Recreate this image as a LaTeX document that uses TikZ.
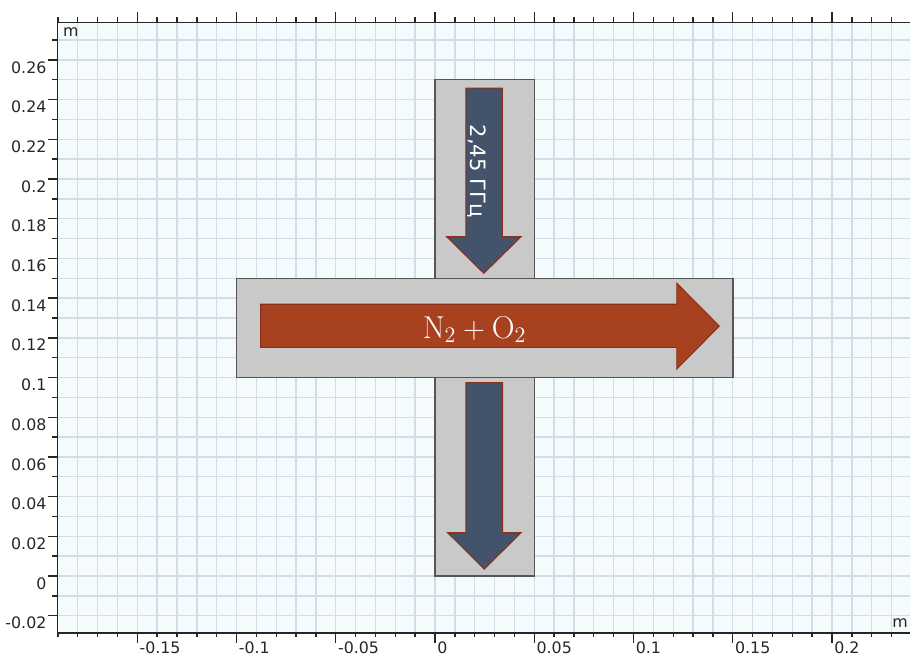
\documentclass[tikz,border=0pt]{standalone}
\usepackage{fontspec}
\newfontfamily\axisfont{DejaVu Sans}
\usepackage{xcolor}
\usepackage{tikz}
\usetikzlibrary{calc}

\definecolor{plotbg}{HTML}{F5FBFD}
\definecolor{gridblue}{HTML}{CFDFEA}
\definecolor{cellgray}{HTML}{C9C9C9}
\definecolor{celledge}{HTML}{555555}
\definecolor{gasred}{HTML}{A8411F}
\definecolor{gasedge}{HTML}{8A3018}
\definecolor{waveblue}{HTML}{43536B}

\begin{document}
\begin{tikzpicture}[x=39.7cm, y=39.7cm,
			gridline/.style={gridblue, line width=0.8pt},
			axis/.style={black!85, line width=0.8pt},
			cell/.style={fill=cellgray, draw=celledge, line width=0.85pt},
			flow/.style={fill=gasred, draw=gasedge, line width=0.6pt},
			wave/.style={fill=waveblue, draw=gasedge, line width=0.6pt},
			ticklabel/.style={inner sep=0pt, text=black!85, font=\axisfont\fontsize{9}{10}\selectfont}
			]
			\useasboundingbox (-0.21914,-0.04081) rectangle (0.23929,0.29018);
			
			% Fond et grille
			\fill[plotbg] (-0.1902,-0.02872) rectangle (0.23929,0.27894);
			\foreach \i in {-18,...,23} {
				\draw[gridline] (\i/100,-0.02872) -- (\i/100,0.27894);
			}
			\foreach \j in {-2,...,27} {
				\draw[gridline] (-0.1902,\j/100) -- (0.23929,\j/100);
			}
			
			% Guide vertical
			\draw[cell] (0,0) rectangle (0.05,0.25);
			
			% Tube horizontal
			\draw[cell] (-0.1,0.1) rectangle (0.15,0.15);
			
			% Flux de gaz
			\draw[flow] (-0.0878,0.1152) -- (-0.0878,0.1369) -- (0.1218,0.1369) -- (0.1218,0.1475)
				-- (0.1432,0.1259) -- (0.1218,0.1043) -- (0.1218,0.1152) -- cycle;
			\node[anchor=base, text=white, font=\fontsize{18}{20}\selectfont] (gas) at (0.0199,0.1197) {$\mathrm{N_2+O_2}$};
			
			% Onde entrante
			\draw[wave] (0.0155,0.2458) -- (0.0339,0.2458) -- (0.0339,0.1709) -- (0.0433,0.1709)
				-- (0.0246,0.1525) -- (0.0059,0.1709) -- (0.0155,0.1709) -- cycle;
			\node[rotate=-90, anchor=base, text=white, font=\axisfont\fontsize{12}{14}\selectfont] (freq) at (0.0178,0.2038) {2,45 ГГц};
			
			% Onde sortante
			\draw[wave] (0.0155,0.0974) -- (0.0341,0.0974) -- (0.0341,0.0218) -- (0.0433,0.0218)
				-- (0.0248,0.0035) -- (0.0064,0.0218) -- (0.0155,0.0218) -- cycle;
			
			% Axes
			\draw[axis] (0.23929,0.27894) -- (-0.1902,0.27894) -- (-0.1902,-0.02872) -- (0.23929,-0.02872);
			\foreach \i in {-19,...,23} {
				\draw[axis] (\i/100,-0.02872) -- ++(0,-0.002);
				\draw[axis] (\i/100,0.27894) -- ++(0,0.0025);
			}
			\foreach \i in {-15,-10,...,20} {
				\draw[axis] (\i/100,-0.02872) -- ++(0,-0.005);
				\draw[axis] (\i/100,0.27894) -- ++(0,0.005);
			}
			\foreach \j in {-2,...,27} {
				\draw[axis] (-0.1902,\j/100) -- ++(-0.0025,0);
			}
			\foreach \j in {-2,0,...,26} {
				\draw[axis] (-0.1902,\j/100) -- ++(-0.0047,0);
			}
			
			% Graduations
			\foreach \v [count=\k] in {-0.02,0,0.02,0.04,0.06,0.08,0.1,0.12,0.14,0.16,0.18,0.2,0.22,0.24,0.26} {
				\node[ticklabel, anchor=north east] (ylab\k) at (-0.1956,\v-0.0005) {\v};
			}
			\foreach \v [count=\k] in {-0.15,-0.1,-0.05,0,0.05,0.1,0.15,0.2} {
				\node[ticklabel, anchor=north west] (xlab\k) at (\v+0.001,-0.0330) {\v};
			}
			\node[ticklabel, anchor=north west] (unity) at (-0.1875,0.2762) {m};
			\node[ticklabel, anchor=base east] (unitx) at (0.2384,-0.0257) {m};
			
		\end{tikzpicture}
\end{document}
